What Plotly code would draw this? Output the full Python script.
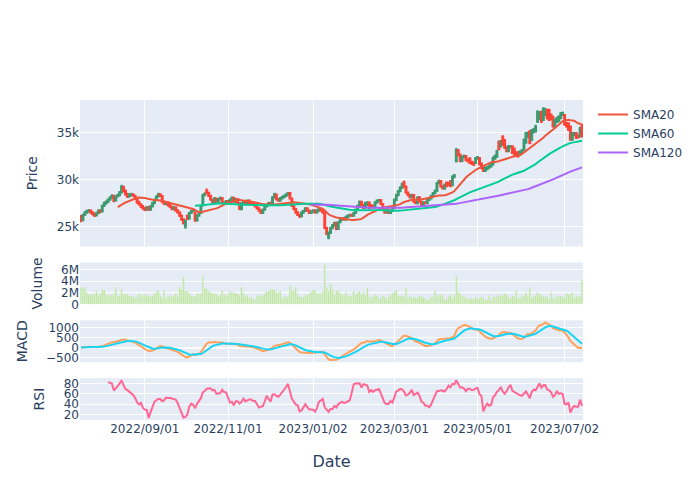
import pandas as pd
import plotly.graph_objects as go
from plotly.subplots import make_subplots

# ---------------- data ----------------
start_date = "2022-07-18"
n_days = 260
dates = pd.bdate_range(start_date, periods=n_days)

open_ = [
    26110, 25700, 26250, 26500, 26650, 26720, 26540, 26380, 26200, 26450,
    26700, 26620, 27250, 27500, 27640, 27870, 28100, 28300, 27780, 28200,
    28360, 28640, 29250, 28820, 28460, 28200, 28380, 28430, 28290, 28010,
    27600, 27380, 27170, 26960, 26820, 27070, 26800, 27150, 27500, 27870,
    28200, 28440, 28270, 27660, 27400, 27590, 27310, 27140, 26870, 27070,
    26720, 26540, 26180, 25780, 25040, 26180, 25850, 26460, 26670, 26530,
    25670, 26180, 26460, 27250, 28340, 28850, 28610, 28290, 27870, 27640,
    28010, 27640, 27920, 28050, 27590, 27500, 27730, 27500, 27850, 28080,
    27640, 27940, 27500, 26870, 27500, 27730, 27500, 27800, 27520, 27450,
    27380, 27170, 26960, 26720, 26460, 26800, 27150, 27290, 27520, 27400,
    28100, 28430, 27940, 27750, 27990, 28130, 28270, 28410, 28570, 28010,
    27240, 26890, 26540, 26270, 26110, 26520, 26670, 26960, 26720, 26460,
    26590, 26720, 26520, 26700, 26890, 26720, 26500, 24890, 23850, 24360,
    24850, 25130, 25430, 24780, 25480, 25760, 25920, 25760, 26040, 26180,
    26270, 26180, 26460, 26800, 27220, 27660, 27310, 27010, 27300, 27570,
    27300, 27200, 27050, 27570, 27700, 27840, 27420, 26890, 26520, 26820,
    26460, 26670, 26960, 27850, 28340, 28760, 29110, 29700, 29270, 28640,
    28360, 28130, 28360, 27660, 27500, 28120, 27660, 27290, 27590, 27500,
    27850, 27990, 28270, 28550, 28790, 29600, 29860, 29270, 29040, 29700,
    29600, 29850, 29400, 30290, 31950, 33100, 32650, 31980, 32380, 32480,
    32060, 32260, 31900, 31800, 31770, 32200, 32300, 31700, 31400, 30900,
    31100, 31250, 31400, 31600, 32200, 32400, 34000, 33500, 34570, 34200,
    33450, 33000, 33400, 33520, 33300, 32900, 32900, 32650, 32900, 33170,
    33900, 34500, 35100, 34200, 35000, 35090, 36140, 36400, 37190, 36300,
    36800, 37360, 37360, 36900, 36660, 35620, 36100, 36200, 36490, 36850,
    36840, 36000, 35970, 35620, 34220, 34700, 34920, 34700, 34570, 35790,
]

high = [
    26250, 26400, 26650, 26800, 26900, 26850, 26650, 26500, 26600, 26850,
    26850, 27350, 27650, 27800, 28000, 28250, 28450, 28400, 28350, 28500,
    28800, 29450, 29350, 28950, 28600, 28550, 28600, 28550, 28400, 28100,
    27750, 27500, 27300, 27100, 27200, 27200, 27300, 27650, 28000, 28350,
    28600, 28550, 28350, 27800, 27700, 27700, 27450, 27250, 27200, 27150,
    26850, 26650, 26300, 25900, 25750, 26300, 26550, 26800, 26850, 26600,
    26300, 26600, 27350, 28500, 28650, 29050, 28700, 28400, 27950, 28150,
    28100, 28050, 28200, 28150, 27700, 27850, 27850, 28000, 28200, 28150,
    28050, 28050, 27600, 27600, 27850, 27850, 27900, 27900, 27650, 27550,
    27500, 27300, 27050, 26800, 26950, 27300, 27450, 27650, 27650, 28250,
    28600, 28500, 28050, 28150, 28300, 28400, 28550, 28700, 28650, 28100,
    27350, 27000, 26650, 26400, 26650, 26800, 27100, 27050, 26800, 26750,
    26850, 26850, 26850, 27000, 27000, 26850, 26600, 25000, 24500, 25000,
    25300, 25550, 25500, 25600, 25900, 26050, 26050, 26200, 26300, 26400,
    26400, 26600, 26950, 27350, 27800, 27750, 27400, 27650, 27700, 27650,
    27400, 27300, 27700, 27900, 27950, 27950, 27500, 26950, 26950, 26900,
    26800, 27100, 28000, 28500, 28900, 29300, 29700, 29900, 29350, 28750,
    28450, 28500, 28450, 27800, 28250, 28200, 27750, 27700, 27700, 28000,
    28150, 28400, 28700, 28950, 29750, 30000, 29950, 29400, 29600, 29800,
    29750, 29950, 30450, 30600, 33350, 33250, 32750, 32550, 32650, 32600,
    32200, 32350, 32000, 31900, 32400, 32500, 32400, 31800, 31500, 31350,
    31450, 31600, 31750, 32450, 32650, 33150, 34150, 34200, 34700, 34300,
    33550, 33650, 33650, 33600, 33400, 33000, 33000, 33100, 33250, 34350,
    35050, 35100, 35250, 35350, 35450, 35800, 37350, 37250, 37300, 37650,
    37600, 37500, 37500, 37000, 36750, 36450, 36650, 36800, 37150, 37200,
    36950, 36100, 36050, 35700, 35050, 35050, 35000, 34800, 35600, 35900,
]

low = [
    25500, 25600, 26150, 26380, 26500, 26400, 26200, 26050, 26100, 26350,
    26450, 26550, 27100, 27350, 27550, 27750, 27950, 27600, 27700, 28100,
    28250, 28550, 28650, 28300, 28050, 28100, 28250, 28150, 27850, 27450,
    27250, 27000, 26800, 26650, 26700, 26700, 26700, 27050, 27400, 27750,
    28100, 28150, 27500, 27300, 27300, 27150, 27000, 26750, 26750, 26600,
    26400, 26050, 25650, 25250, 24790, 25750, 25750, 26350, 26550, 25550,
    25600, 26100, 26400, 27150, 28250, 28450, 28150, 27750, 27500, 27550,
    27550, 27550, 27850, 27450, 27400, 27400, 27400, 27400, 27750, 27550,
    27550, 27400, 26750, 26800, 27400, 27400, 27400, 27400, 27350, 27250,
    27050, 26850, 26600, 26350, 26400, 26700, 27050, 27200, 27300, 27350,
    28000, 27800, 27650, 27650, 27900, 28050, 28150, 28300, 27900, 27100,
    26750, 26400, 26150, 25950, 26000, 26400, 26600, 26600, 26350, 26350,
    26500, 26400, 26450, 26600, 26600, 26400, 24750, 24100, 23700, 24250,
    24750, 25000, 24650, 24700, 25400, 25650, 25650, 25650, 25950, 26100,
    26050, 26100, 26350, 26700, 27150, 27200, 26900, 26950, 27200, 26850,
    27000, 26950, 26950, 27450, 27600, 27300, 26750, 26400, 26450, 26350,
    26350, 26600, 26900, 27750, 28250, 28650, 29000, 29150, 28500, 28250,
    28000, 28050, 27550, 27400, 27400, 27550, 27150, 27200, 27400, 27400,
    27750, 27900, 28150, 28450, 28700, 29500, 29150, 28950, 28950, 29200,
    29300, 29200, 29300, 30150, 31800, 32450, 31850, 31850, 32250, 31950,
    31800, 31650, 31550, 31450, 31650, 32100, 31500, 31100, 30800, 30800,
    31000, 31150, 31300, 31500, 32100, 32300, 33100, 33400, 33600, 33250,
    32900, 32900, 33300, 32700, 32550, 32450, 32350, 32550, 32800, 33050,
    33800, 34400, 33750, 34100, 34900, 35000, 36000, 36300, 36000, 36200,
    36700, 36350, 36200, 36300, 35500, 35500, 36000, 36100, 36400, 36750,
    35700, 35500, 35150, 34100, 34100, 34600, 34300, 34350, 34450, 34450,
]

close = [
    25660, 26250, 26530, 26680, 26710, 26530, 26360, 26190, 26470, 26680,
    26600, 27230, 27510, 27650, 27860, 28110, 28280, 27760, 28210, 28350,
    28630, 29260, 28800, 28450, 28210, 28390, 28420, 28280, 28000, 27580,
    27370, 27160, 26950, 26810, 27060, 26810, 27160, 27510, 27860, 28210,
    28420, 28280, 27650, 27410, 27580, 27300, 27130, 26880, 27060, 26710,
    26530, 26190, 25770, 25380, 25660, 25840, 26470, 26680, 26710, 25660,
    26190, 26470, 27230, 28350, 28460, 28600, 28280, 27860, 27650, 28000,
    27650, 27930, 28040, 27580, 27510, 27720, 27510, 27860, 28070, 27650,
    27930, 27510, 26880, 27510, 27720, 27510, 27790, 27510, 27440, 27370,
    27160, 26950, 26710, 26470, 26810, 27160, 27300, 27510, 27410, 28110,
    28420, 27930, 27760, 28000, 28140, 28280, 28420, 28560, 28000, 27230,
    26880, 26530, 26260, 26120, 26530, 26680, 26950, 26710, 26470, 26600,
    26710, 26530, 26710, 26880, 26710, 26530, 24900, 24270, 24370, 24860,
    25140, 25420, 24790, 25490, 25770, 25910, 25770, 26050, 26190, 26260,
    26190, 26470, 26810, 27230, 27650, 27300, 27020, 27510, 27560, 26950,
    27130, 27060, 27580, 27790, 27830, 27410, 26880, 26530, 26810, 26470,
    26680, 26950, 27860, 28350, 28770, 29120, 29500, 29260, 28630, 28350,
    28140, 28350, 27650, 27510, 28110, 27650, 27300, 27580, 27510, 27860,
    28000, 28280, 28560, 28800, 29610, 29850, 29260, 29050, 29470, 29330,
    29400, 29330, 30310, 30450, 33170, 32600, 32000, 32400, 32470, 32050,
    31950, 31770, 31670, 31600, 32290, 32360, 31600, 31250, 30930, 31250,
    31300, 31450, 31600, 32300, 32500, 33000, 33200, 34050, 33700, 33400,
    33000, 33520, 33500, 32820, 32650, 32600, 32470, 32990, 33100, 34200,
    34900, 34900, 33870, 35200, 35300, 35620, 37190, 37100, 36140, 37500,
    37400, 36490, 36320, 36400, 35620, 36310, 36500, 36660, 37000, 37060,
    35800, 35650, 35270, 34220, 34920, 34900, 34400, 34500, 35440, 34570,
]

volume_millions = [
    2.9, 3.0, 2.8, 2.0, 1.7, 1.7, 1.8, 1.7, 2.3, 1.5,
    1.9, 2.6, 2.5, 1.6, 1.6, 1.6, 1.6, 1.9, 3.0, 1.5,
    1.5, 2.6, 1.8, 1.8, 1.7, 1.5, 1.4, 1.3, 1.1, 1.3,
    1.9, 1.6, 1.6, 1.6, 1.7, 1.4, 1.3, 1.5, 1.9, 2.1,
    2.4, 1.5, 1.1, 2.4, 1.0, 1.4, 1.5, 1.4, 1.5, 1.9,
    1.3, 3.0, 2.5, 4.7, 2.3, 2.2, 1.9, 1.5, 1.4, 1.4,
    1.9, 1.8, 1.9, 4.9, 2.8, 2.7, 2.2, 2.0, 1.9, 1.9,
    1.7, 1.4, 1.6, 2.4, 1.8, 1.4, 1.7, 2.2, 2.1, 2.0,
    1.9, 1.9, 1.6, 3.0, 1.9, 1.3, 1.6, 1.1, 1.3, 1.0,
    0.8, 1.5, 1.6, 1.4, 1.7, 1.9, 2.3, 2.3, 2.6, 2.6,
    2.5, 2.0, 2.0, 2.3, 1.0, 1.3, 1.4, 1.3, 3.2, 2.4,
    2.3, 3.0, 1.8, 1.3, 1.3, 1.2, 1.6, 1.6, 1.7, 2.1,
    2.6, 2.4, 1.9, 1.9, 1.9, 2.2, 6.9, 2.9, 2.3, 3.5,
    2.5, 1.6, 2.3, 2.5, 1.9, 1.7, 1.6, 2.1, 1.5, 1.5,
    1.5, 2.3, 1.7, 2.0, 2.3, 1.7, 2.1, 1.6, 2.9, 1.3,
    1.2, 1.3, 1.7, 1.5, 1.05, 1.16, 1.5, 1.27, 0.76, 1.33,
    1.6, 1.9, 2.2, 2.5, 1.5, 1.5, 1.5, 1.3, 2.9, 1.05,
    1.5, 1.16, 1.33, 1.16, 1.05, 1.5, 1.3, 1.16, 1.05, 0.76,
    0.88, 1.33, 1.33, 2.35, 1.6, 1.6, 1.6, 1.6, 0.88, 0.88,
    1.33, 1.72, 1.05, 1.6, 4.9, 2.06, 1.9, 1.5, 1.33, 1.16,
    1.05, 0.88, 1.05, 0.88, 1.33, 0.88, 1.05, 1.33, 1.05, 0.76,
    0.88, 1.6, 0.76, 1.33, 1.33, 1.4, 1.6, 1.5, 1.5, 1.9,
    1.72, 1.16, 1.05, 1.5, 1.33, 2.3, 1.05, 1.05, 1.5, 1.5,
    2.06, 1.5, 2.9, 1.16, 1.33, 1.5, 2.06, 1.72, 1.6, 1.33,
    1.33, 1.33, 0.94, 2.06, 1.16, 1.05, 1.4, 1.5, 1.5, 1.33,
    1.16, 1.9, 1.72, 1.72, 2.06, 1.05, 1.5, 1.33, 1.4, 4.3,
]

# ---------------- indicators computed from the close series ----------------
df = pd.DataFrame({"Open": open_, "High": high, "Low": low, "Close": close,
                   "Volume": [v * 1e6 for v in volume_millions]}, index=dates)
df["SMA20"] = df["Close"].rolling(20).mean()
df["SMA60"] = df["Close"].rolling(60).mean()
df["SMA120"] = df["Close"].rolling(120).mean()
ema12 = df["Close"].ewm(span=12).mean()
ema26 = df["Close"].ewm(span=26).mean()
df["MACD"] = ema12 - ema26
df["Signal"] = df["MACD"].ewm(span=9).mean()
delta = df["Close"].diff()
gain = delta.clip(lower=0).rolling(14).mean()
loss = (-delta.clip(upper=0)).rolling(14).mean()
df["RSI"] = 100 - 100 / (1 + gain / loss)

# ---------------- figure ----------------
fig = make_subplots(rows=4, cols=1, shared_xaxes=True, vertical_spacing=0.05,
                    row_heights=[0.7, 0.2, 0.2, 0.2])

fig.add_trace(go.Candlestick(x=df.index, open=df["Open"], high=df["High"],
                             low=df["Low"], close=df["Close"], name="Price",
                             showlegend=False), row=1, col=1)
fig.add_trace(go.Scatter(x=df.index, y=df["SMA20"], mode="lines", name="SMA20",
                         line=dict(color="#EF553B", width=2)), row=1, col=1)
fig.add_trace(go.Scatter(x=df.index, y=df["SMA60"], mode="lines", name="SMA60",
                         line=dict(color="#00CC96", width=2)), row=1, col=1)
fig.add_trace(go.Scatter(x=df.index, y=df["SMA120"], mode="lines", name="SMA120",
                         line=dict(color="#AB63FA", width=2)), row=1, col=1)

fig.add_trace(go.Bar(x=df.index, y=df["Volume"], name="Volume",
                     marker_color="#B6E880", showlegend=False), row=2, col=1)

fig.add_trace(go.Scatter(x=df.index, y=df["MACD"], mode="lines", name="MACD",
                         line=dict(color="#FFA15A", width=2), showlegend=False), row=3, col=1)
fig.add_trace(go.Scatter(x=df.index, y=df["Signal"], mode="lines", name="Signal",
                         line=dict(color="#19D3F3", width=2), showlegend=False), row=3, col=1)

fig.add_trace(go.Scatter(x=df.index, y=df["RSI"], mode="lines", name="RSI",
                         line=dict(color="#FF6692", width=2), showlegend=False), row=4, col=1)

all_days = pd.date_range(dates[0], dates[-1])
date_set = set(dates)
missing = [d.strftime("%Y-%m-%d") for d in all_days if d not in date_set]
fig.update_xaxes(rangebreaks=[dict(values=missing)])
fig.update_xaxes(rangeslider_visible=False)
fig.update_xaxes(tickformat="%Y/%m/%d", title_text="Date",
                 title_font=dict(size=16), title_standoff=20, row=4, col=1)

fig.update_yaxes(title_text="Price", row=1, col=1)
fig.update_yaxes(title_text="Volume", row=2, col=1)
fig.update_yaxes(title_text="MACD", row=3, col=1)
fig.update_yaxes(title_text="RSI", row=4, col=1)

fig.update_layout(width=700, height=500, template="plotly",
                  font=dict(family="DejaVu Sans"))

fig.write_html("out.html")
